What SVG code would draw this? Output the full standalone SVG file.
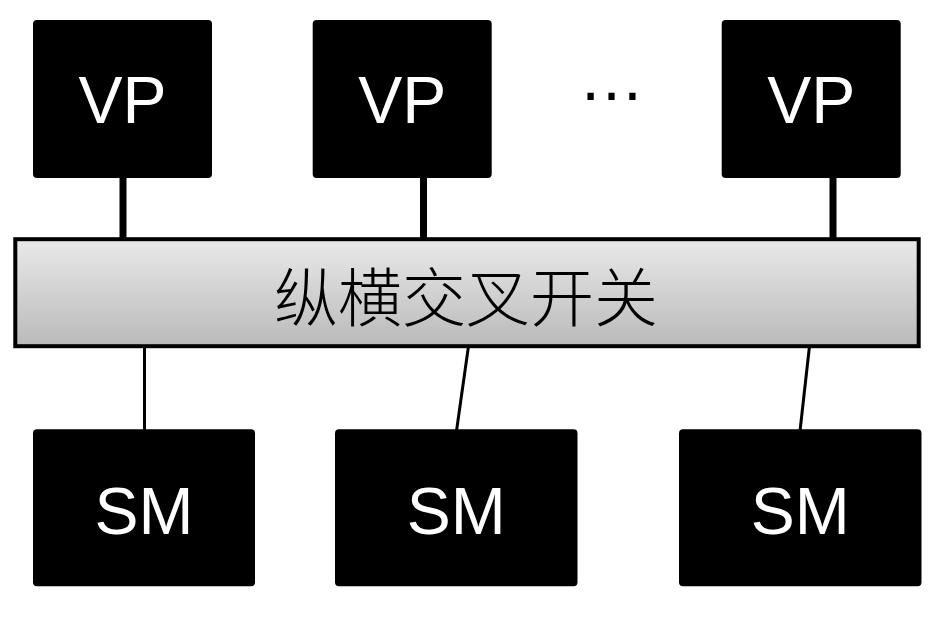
<svg xmlns="http://www.w3.org/2000/svg" width="944" height="624" viewBox="0 0 944 624">
<defs>
<linearGradient id="barGrad" x1="0" y1="0" x2="0" y2="1">
<stop offset="0" stop-color="#e9e9e9"/>
<stop offset="1" stop-color="#bababa"/>
</linearGradient>
<style>
.box{fill:#000;}
.lbl{fill:#fff;font-family:"Liberation Sans",Arial,sans-serif;font-size:66px;text-anchor:middle;}
.thick{stroke:#000;stroke-width:7;fill:none;}
.thin{stroke:#000;stroke-width:3;fill:none;}
.bar{fill:url(#barGrad);stroke:#000;stroke-width:4;}
.cjk{fill:#000;font-family:"Noto Sans CJK SC","Liberation Serif",serif;font-size:64px;font-weight:300;text-anchor:middle;}
.dots{fill:#000;font-family:"Liberation Sans",Arial,sans-serif;font-size:66px;text-anchor:middle;}
</style>
</defs>
<rect width="944" height="624" fill="#fff"/>
<g id="connectors">
<line class="thick" x1="123" y1="176" x2="123" y2="240"/>
<line class="thick" x1="423.5" y1="176" x2="423.5" y2="240"/>
<line class="thick" x1="833" y1="176" x2="833" y2="240"/>
<line class="thin" x1="144.5" y1="346" x2="144.5" y2="431"/>
<line class="thin" x1="468.5" y1="346" x2="456.5" y2="431"/>
<line class="thin" x1="809.5" y1="346" x2="800" y2="431"/>
</g>
<g id="crossbar">
<rect class="bar" x="15.3" y="239.2" width="903.4" height="107"/>
<text class="cjk" x="466" y="321">纵横交叉开关</text>
</g>
<g id="vp1">
<rect class="box" x="33" y="20" width="179" height="158" rx="4"/>
<text class="lbl" x="122.5" y="123">VP</text>
</g>
<g id="vp2">
<rect class="box" x="312.7" y="20" width="179" height="158" rx="4"/>
<text class="lbl" x="402.2" y="123">VP</text>
</g>
<g id="ellipsis">
<text class="dots" x="611.5" y="100">…</text>
</g>
<g id="vp3">
<rect class="box" x="721.7" y="20" width="179" height="158" rx="4"/>
<text class="lbl" x="811.2" y="123">VP</text>
</g>
<g id="sm1">
<rect class="box" x="33" y="429.3" width="222" height="157" rx="4"/>
<text class="lbl" x="144" y="534">SM</text>
</g>
<g id="sm2">
<rect class="box" x="335" y="429.3" width="242.5" height="157" rx="4"/>
<text class="lbl" x="456.2" y="534">SM</text>
</g>
<g id="sm3">
<rect class="box" x="679" y="429.3" width="242.5" height="157" rx="4"/>
<text class="lbl" x="800.2" y="534">SM</text>
</g>
</svg>
